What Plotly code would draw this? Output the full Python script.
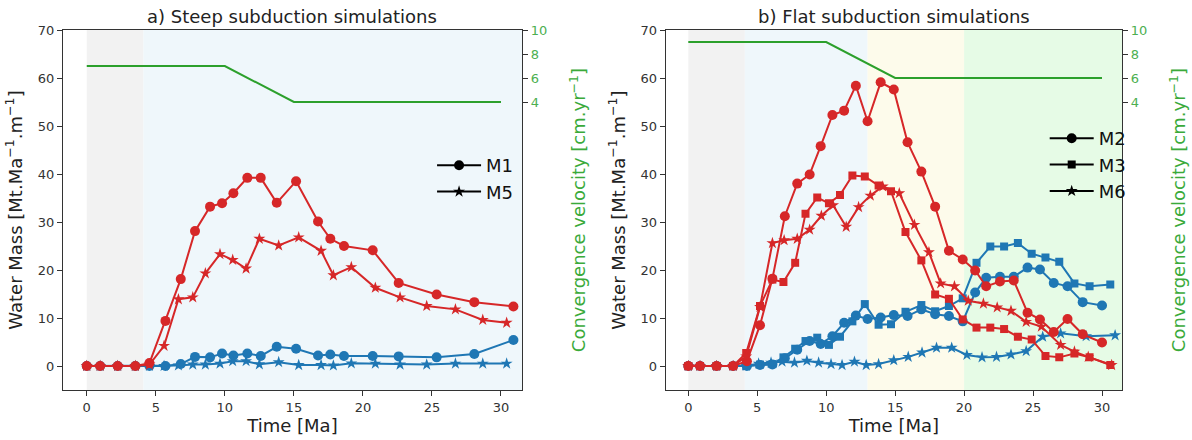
import plotly.graph_objects as go

# ---------------- data: panel a (steep subduction) ----------------
t_m1 = [0, 0.97, 2.24, 3.52, 4.54, 5.70, 6.81, 7.84, 8.93, 9.80, 10.62, 11.63, 12.60,
        13.76, 15.16, 16.75, 17.64, 18.63, 20.71, 22.59, 25.34, 28.07, 30.90]
m1_red = [0, 0, 0, 0, 0.6, 9.4, 18.1, 28.1, 33.2, 33.9, 36.0, 39.2, 39.2,
          34.0, 38.5, 30.1, 26.5, 25.0, 24.1, 17.3, 14.9, 13.3, 12.4]
m1_blue = [0, 0, 0, 0, 0, 0, 0.4, 1.9, 1.8, 2.6, 2.2, 2.6, 2.1,
           4.0, 3.6, 2.2, 2.4, 2.1, 2.1, 2.0, 1.8, 2.5, 5.4]

t_m5 = [0, 0.97, 2.24, 3.52, 4.54, 5.60, 6.64, 7.68, 8.59, 9.65, 10.57, 11.54, 12.50,
        13.90, 15.35, 16.97, 17.86, 19.16, 20.90, 22.69, 24.62, 26.70, 28.68, 30.41]
m5_red = [0, 0, 0, 0, 0.3, 4.2, 13.9, 14.3, 19.3, 23.3, 22.1, 20.3, 26.5,
          25.1, 26.8, 24.0, 18.9, 20.6, 16.3, 14.3, 12.5, 11.8, 9.6, 9.0]
m5_blue = [0, 0, 0, 0, 0, 0, 0.1, 0.3, 0.3, 0.5, 1.0, 1.0, 0.35,
           0.8, 0.2, 0.2, 0.1, 0.55, 0.5, 0.3, 0.3, 0.5, 0.5, 0.5]

conv_t_a = [0, 10, 15, 30]
conv_v_a = [7, 7, 4, 4]

# ---------------- data: panel b (flat subduction) ----------------
t_m2 = [0, 0.85, 2.05, 3.25, 4.25, 5.2, 6.1, 7.0, 7.9, 8.8, 9.6, 10.45, 11.3, 12.15,
        13.0, 13.95, 14.9, 15.9, 16.9, 17.9, 18.9, 19.9, 20.8, 21.6, 22.6, 23.6,
        24.6, 25.5, 26.5, 27.5, 28.6, 30.0]
m2_red = [0, 0, 0, 0, 1.0, 8.5, 18.2, 31.2, 38.0, 39.9, 45.8, 52.3, 53.2, 58.4,
          51.0, 59.1, 57.6, 46.6, 40.5, 33.2, 24.0, 22.2, 19.9, 16.6, 17.6, 17.8,
          11.1, 9.7, 7.1, 9.8, 6.6, 4.9]
m2_blue = [0, 0, 0, 0, 0, 0.2, 0.3, 1.6, 3.4, 5.2, 4.6, 6.2, 9.0, 10.5,
           9.8, 10.1, 10.6, 10.4, 11.8, 10.8, 10.4, 9.3, 15.3, 18.4, 18.6, 18.6,
           20.5, 20.1, 17.3, 16.6, 13.3, 12.6]

t_m3 = [0, 0.85, 2.05, 3.25, 4.2, 5.2, 6.1, 6.9, 7.75, 8.5, 9.35, 10.2, 11.0, 11.9,
        12.8, 13.8, 14.7, 15.75, 16.9, 17.9, 18.9, 19.9, 20.9, 21.9, 22.9, 23.9,
        24.9, 25.9, 26.9, 28.0, 29.1, 30.6]
m3_red = [0, 0, 0, 0, 2.7, 12.5, 18.0, 17.5, 21.5, 31.7, 35.1, 33.9, 35.6, 39.7,
          39.5, 37.6, 36.4, 27.9, 22.0, 14.9, 14.0, 9.7, 8.0, 8.0, 7.7, 6.1,
          5.5, 2.1, 1.8, 2.6, 1.8, 0.2]
m3_blue = [0, 0, 0, 0, 0, 0.3, 0.4, 1.8, 3.6, 5.2, 5.9, 4.4, 6.1, 9.3,
           12.9, 8.6, 8.7, 11.3, 12.7, 11.4, 12.5, 14.1, 21.5, 24.9, 24.9, 25.6,
           23.4, 22.6, 21.7, 17.2, 16.6, 17.0]

t_m6_red = [0, 0.85, 2.05, 3.25, 4.2, 5.2, 6.1, 6.95, 7.9, 8.8, 9.65, 10.5, 11.45,
            12.35, 13.2, 14.1, 15.3, 16.4, 17.45, 18.3, 19.3, 20.3, 21.4, 22.4,
            23.4, 24.5, 25.6, 27.0, 28.0, 29.0, 30.7]
m6_red = [0, 0, 0, 0, 2.0, 12.3, 25.6, 26.2, 26.5, 28.4, 31.3, 33.5, 29.0,
          33.1, 35.5, 37.4, 36.0, 29.4, 23.7, 17.2, 16.6, 13.6, 13.0, 12.2,
          11.5, 9.2, 8.2, 4.4, 3.0, 1.9, 0.2]
t_m6_blue = [0, 0.85, 2.05, 3.25, 4.2, 5.1, 6.0, 6.8, 7.7, 8.6, 9.45, 10.35, 11.15,
             12.05, 12.9, 13.8, 14.9, 15.95, 16.95, 18.0, 19.1, 20.2, 21.3, 22.35,
             23.4, 24.5, 25.7, 27.0, 28.85, 30.95]
m6_blue = [0, 0, 0, 0, 0, 0.5, 0.7, 0.9, 0.7, 1.1, 0.7, 0.4, 0.2,
           0.9, 0.2, 0.4, 1.2, 1.9, 2.8, 3.8, 3.8, 2.3, 1.8, 1.9,
           2.4, 3.1, 6.1, 6.8, 6.2, 6.4]

conv_t_b = [0, 10, 15, 30]
conv_v_b = [9, 9, 6, 6]

# phase shading boundaries (Ma) and colours
phases_a = [(0, 4.1, "#f2f2f2"), (4.1, 31.52, "#eff7fb")]
phases_b = [(0, 4.1, "#f2f2f2"), (4.1, 13.0, "#eff7fb"), (13.0, 20.0, "#fdfbeb"),
            (20.0, 31.45, "#e6fbe6")]

y_ticks = [0, 10, 20, 30, 40, 50, 60, 70]
v_ticks = [4, 6, 8, 10]
x_ticks = [0, 5, 10, 15, 20, 25, 30]

RED = "#d62728"
BLUE = "#1f77b4"
GREEN = "#2ca02c"
FONT = "DejaVu Sans"

fig = go.Figure()


def add_series(x, y, color, symbol, size, xa, ya):
    fig.add_trace(go.Scatter(
        x=x, y=y, mode="lines+markers", xaxis=xa, yaxis=ya, showlegend=False,
        line=dict(color=color, width=2),
        marker=dict(color=color, symbol=symbol, size=size, line=dict(width=0)),
        hoverinfo="skip"))


# panel a
add_series(t_m1, m1_blue, BLUE, "circle", 10, "x", "y")
add_series(t_m5, m5_blue, BLUE, "star", 9, "x", "y")
add_series(t_m1, m1_red, RED, "circle", 10, "x", "y")
add_series(t_m5, m5_red, RED, "star", 9, "x", "y")
fig.add_trace(go.Scatter(x=conv_t_a, y=conv_v_a, mode="lines", xaxis="x", yaxis="y2",
                         showlegend=False, line=dict(color=GREEN, width=2)))

# panel b
add_series(t_m2, m2_blue, BLUE, "circle", 10, "x2", "y3")
add_series(t_m3, m3_blue, BLUE, "square", 8, "x2", "y3")
add_series(t_m6_blue, m6_blue, BLUE, "star", 9, "x2", "y3")
add_series(t_m2, m2_red, RED, "circle", 10, "x2", "y3")
add_series(t_m3, m3_red, RED, "square", 8, "x2", "y3")
add_series(t_m6_red, m6_red, RED, "star", 9, "x2", "y3")
fig.add_trace(go.Scatter(x=conv_t_b, y=conv_v_b, mode="lines", xaxis="x2", yaxis="y4",
                         showlegend=False, line=dict(color=GREEN, width=2)))

# legend entries
for name, sym, size, lg in [("M1", "circle", 10, "legend"), ("M5", "star", 9, "legend"),
                            ("M2", "circle", 10, "legend2"), ("M3", "square", 8, "legend2"),
                            ("M6", "star", 9, "legend2")]:
    fig.add_trace(go.Scatter(x=[None], y=[None], mode="lines+markers", name=name,
                             legend=lg, xaxis="x" if lg == "legend" else "x2",
                             yaxis="y" if lg == "legend" else "y3",
                             line=dict(color="black", width=2),
                             marker=dict(color="black", symbol=sym, size=size)))

shapes = []
for x0, x1, col in phases_a:
    shapes.append(dict(type="rect", xref="x", yref="y domain", x0=x0, x1=x1, y0=0, y1=1,
                       fillcolor=col, line=dict(width=0), layer="below"))
for x0, x1, col in phases_b:
    shapes.append(dict(type="rect", xref="x2", yref="y3 domain", x0=x0, x1=x1, y0=0, y1=1,
                       fillcolor=col, line=dict(width=0), layer="below"))

axis_common = dict(showline=True, linecolor="#333", linewidth=1.2, mirror=True,
                   ticks="outside", ticklen=5, tickcolor="#333", showgrid=False,
                   zeroline=False, automargin=False,
                   tickfont=dict(family=FONT, size=13, color="#333"))

ytitle = "Water Mass [Mt.Ma<sup>\u22121</sup>.m<sup>\u22121</sup>]"
vtitle = "Convergence velocity [cm.yr<sup>\u22121</sup>]"

xa_dom = [0, 0.4334]
xb_dom = [0.5691, 1]

right_axis = dict(showline=True, linecolor="#333", linewidth=1.2, ticks="outside", ticklen=5,
                  tickcolor="#333", showgrid=False, zeroline=False, range=[-20, 10],
                  tickvals=v_ticks, side="right", automargin=False,
                  tickfont=dict(family=FONT, size=13, color="#4caf50"),
                  title=dict(text=vtitle, font=dict(size=18, family=FONT, color="#3aaa3a"),
                             standoff=26))

legend_common = dict(xanchor="left", yanchor="top", bgcolor="rgba(0,0,0,0)",
                     font=dict(family=FONT, size=18, color="#111"), tracegroupgap=0,
                     itemwidth=44)

fig.update_layout(
    width=1192, height=440,
    margin=dict(l=63, r=70, t=30, b=50, autoexpand=False),
    plot_bgcolor="white", paper_bgcolor="white",
    font=dict(family=FONT, color="#222"),
    shapes=shapes,
    xaxis=dict(domain=xa_dom, anchor="y", range=[-1.72, 31.52], tickvals=x_ticks,
               title=dict(text="Time [Ma]", font=dict(size=18, family=FONT, color="#222"), standoff=4),
               **axis_common),
    yaxis=dict(domain=[0, 1], anchor="x", range=[-5, 70], tickvals=y_ticks,
               title=dict(text=ytitle, font=dict(size=18, family=FONT, color="#222"), standoff=10),
               **axis_common),
    yaxis2=dict(overlaying="y", anchor="x", **right_axis),
    xaxis2=dict(domain=xb_dom, anchor="y3", range=[-1.64, 31.45], tickvals=x_ticks,
                title=dict(text="Time [Ma]", font=dict(size=18, family=FONT, color="#222"), standoff=4),
                **axis_common),
    yaxis3=dict(domain=[0, 1], anchor="x2", range=[-5, 70], tickvals=y_ticks,
                title=dict(text=ytitle, font=dict(size=18, family=FONT, color="#222"), standoff=10),
                **axis_common),
    yaxis4=dict(overlaying="y3", anchor="x2", **right_axis),
    legend=dict(x=0.3485, y=0.675, **legend_common),
    legend2=dict(x=0.927, y=0.75, **legend_common),
    annotations=[
        dict(text="a) Steep subduction simulations", xref="paper", yref="paper",
             x=sum(xa_dom) / 2, y=1, xanchor="center", yanchor="bottom", yshift=1,
             showarrow=False, font=dict(family=FONT, size=18, color="#222")),
        dict(text="b) Flat subduction simulations", xref="paper", yref="paper",
             x=sum(xb_dom) / 2, y=1, xanchor="center", yanchor="bottom", yshift=1,
             showarrow=False, font=dict(family=FONT, size=18, color="#222")),
    ],
)

fig.write_html("out.html")
